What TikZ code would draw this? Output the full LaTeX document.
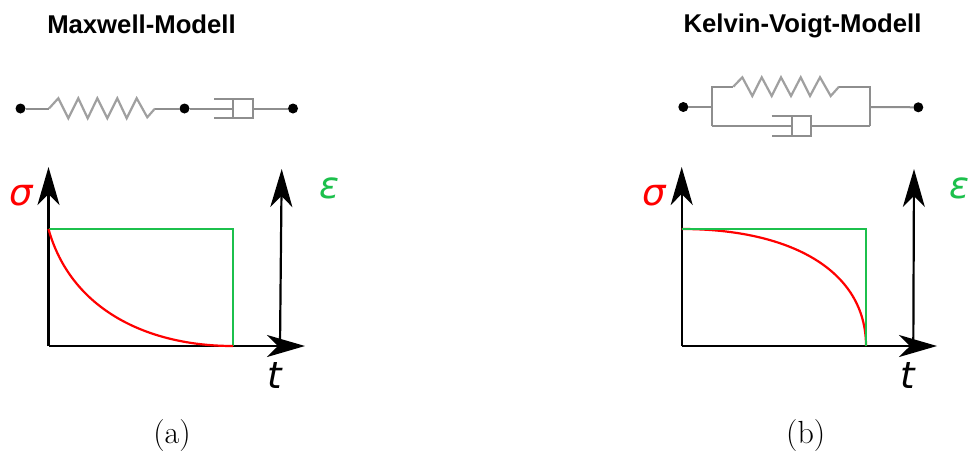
\documentclass[tikz,border=0pt]{standalone}
\usepackage{fontspec}
\setsansfont{Liberation Sans}
\newfontfamily\greekfont{DejaVu Sans}
\newfontfamily\capfont{Latin Modern Roman}
\usetikzlibrary{arrows.meta}
\definecolor{mgreen}{HTML}{1CC04C}
\definecolor{mgray}{HTML}{8E8E8E}
\definecolor{sgray}{HTML}{A0A0A0}
\tikzset{
  x=1pt,y=-1pt,
  terminal/.style={circle,fill=black,draw=none,minimum size=10pt,inner sep=0pt,outer sep=0pt},
  mechline/.style={draw=mgray,line width=2pt},
  springline/.style={draw=sgray,line width=2.2pt,line join=miter},
  axisarrow/.style={draw=black,line width=2.2pt,-{Stealth[length=38pt,width=22pt,inset=11pt]}},
  straincurve/.style={draw=mgreen,line width=2.4pt},
  stresscurve/.style={draw=red,line width=2.2pt},
  modeltitle/.style={anchor=base,inner sep=0pt,font=\sffamily\bfseries\fontsize{25.7}{28}\selectfont},
  axislabel/.style={anchor=base west,inner sep=0pt,font=\greekfont\itshape\fontsize{37}{40}\selectfont},
  caption/.style={anchor=base,inner sep=0pt,font=\capfont\fontsize{32}{36}\selectfont}
}
\begin{document}
\begin{tikzpicture}
\useasboundingbox (0,0) rectangle (968,450);
% ---------- Maxwell ----------
\node[modeltitle] (mtitle) at (141.5,33) {Maxwell-Modell};
\node[terminal] (ma) at (20.5,108.5) {};
\node[terminal] (mb) at (184.5,108.5) {};
\node[terminal] (mc) at (293,108.5) {};
\coordinate (ms1) at (49,108.5);
\coordinate (ms2) at (155,108.5);
\coordinate (mp) at (233.3,108.5);
\coordinate (mq) at (253.3,108.5);
\draw[mechline] (ma) -- (ms1);
\draw[springline] (ms1) -- (58.3,98.3) -- (68.3,118.3) -- (78.3,98.3) -- (87.7,118.3) -- (97.3,98.3) -- (107.3,118.3) -- (117.3,98.3) -- (126.7,118.3) -- (136.7,98.3) -- (147.3,117.3) -- (ms2);
\draw[mechline] (ms2) -- (mb);
\draw[mechline] (mb) -- (mp);
\draw[mechline] (mq) -- (mc);
\draw[mechline] (214,99) -- (253.3,99) -- (253.3,118.3) -- (214,118.3);
\draw[mechline] (233.3,99) -- (233.3,118.3);
% axes
\coordinate (mo) at (48.5,346);
\coordinate (mytop) at (48.5,167);
\coordinate (mxtip) at (305,346);
\coordinate (mrb) at (280,346);
\coordinate (mrt) at (281.7,169);
\draw[axisarrow] (mrb) -- (mrt);
\draw[axisarrow] (mo) -- (mytop);
\draw[axisarrow] (mo) -- (mxtip);
\coordinate (mg1) at (48.5,229);
\coordinate (mg2) at (233,229);
\coordinate (mg3) at (233,346);
\draw[straincurve] (mg1) -- (mg2) -- (mg3);
\draw[stresscurve] (mg1) .. controls (71,310) and (148,346) .. (mg3);
\node[axislabel,text=red] (msig) at (9,205) {σ};
\node[axislabel,text=mgreen] (meps) at (319,198) {ε};
\node[axislabel,text=black] (mt) at (267,388) {t};
\node[caption] (capa) at (172,443) {(a)};
% ---------- Kelvin-Voigt ----------
\node[modeltitle] (ktitle) at (802.5,32) {Kelvin-Voigt-Modell};
\node[terminal] (ka) at (683.3,107) {};
\node[terminal] (kb) at (918.3,107.3) {};
\coordinate (kl) at (711.7,107);
\coordinate (kr) at (870,107);
\coordinate (klt) at (711.7,86.7);
\coordinate (klb) at (711.7,126);
\coordinate (krt) at (870,86.7);
\coordinate (krb) at (870,126);
\coordinate (ks1) at (733.3,86.7);
\coordinate (ks2) at (839,86.7);
\coordinate (kp) at (791.7,126);
\coordinate (kq) at (811,126);
\draw[mechline] (ka) -- (kl);
\draw[mechline] (kr) -- (kb);
\draw[mechline] (klb) -- (klt) -- (ks1);
\draw[springline] (ks1) -- (742.3,77.3) -- (752.3,96) -- (761.7,77.3) -- (771.7,96) -- (781,77.3) -- (791,96) -- (800.7,77.3) -- (810,96) -- (820,77.3) -- (830.7,96) -- (ks2);
\draw[mechline] (ks2) -- (krt) -- (krb);
\draw[mechline] (klb) -- (kp);
\draw[mechline] (kq) -- (krb);
\draw[mechline] (771.7,115.7) -- (811,115.7) -- (811,136) -- (771.7,136);
\draw[mechline] (791.7,115.7) -- (791.7,136);
% axes
\coordinate (ko) at (681.7,346);
\coordinate (kytop) at (681.7,167);
\coordinate (kxtip) at (937,346);
\coordinate (krrb) at (913.3,346);
\coordinate (krrt) at (914,169);
\draw[axisarrow] (krrb) -- (krrt);
\draw[axisarrow] (ko) -- (kytop);
\draw[axisarrow] (ko) -- (kxtip);
\coordinate (kg1) at (681.7,229);
\coordinate (kg2) at (866,229);
\coordinate (kg3) at (866,346);
\draw[stresscurve] (kg1) .. controls (790,229) and (866,270) .. (kg3);
\draw[straincurve] (kg1) -- (kg2) -- (kg3);
\node[axislabel,text=red] (ksig) at (642,205) {σ};
\node[axislabel,text=mgreen] (keps) at (949.5,198) {ε};
\node[axislabel,text=black] (kt) at (900,388) {t};
\node[caption] (capb) at (805.7,443) {(b)};
\end{tikzpicture}
\end{document}
